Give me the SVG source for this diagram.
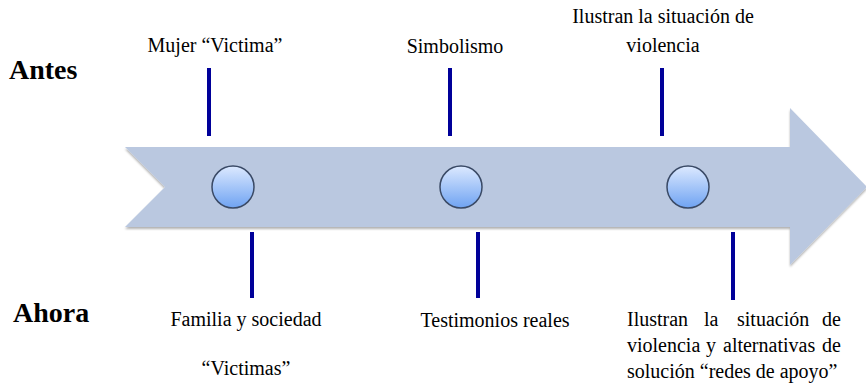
<svg xmlns="http://www.w3.org/2000/svg" width="866" height="387" viewBox="0 0 866 387">
<defs>
<linearGradient id="dot" x1="0" y1="0" x2="0" y2="1">
<stop offset="0" stop-color="#DCE9FF"/>
<stop offset="1" stop-color="#6FA3F2"/>
</linearGradient>
<filter id="sh" x="-5%" y="-5%" width="110%" height="115%">
<feDropShadow dx="0" dy="2" stdDeviation="1.2" flood-color="#000" flood-opacity="0.3"/>
</filter>
<style>
.t{font-size:20px;fill:#000}
.h{font-size:28px;font-weight:bold;fill:#000}
.m{text-anchor:middle}
.ln{stroke:#000099;stroke-width:4}
.dot{fill:url(#dot);stroke:#3A4A66;stroke-width:1.5}
</style>
</defs>
<rect width="866" height="387" fill="#fff"/>
<g id="arrow">
<polygon points="125,147 790,147 790,108 867,187 790,265 790,227 125,227 165,187" fill="#BAC8E0" filter="url(#sh)"/>
</g>
<g id="connectors">
<line class="ln" x1="209" y1="68" x2="209" y2="136"/>
<line class="ln" x1="252" y1="232" x2="252" y2="298"/>
<line class="ln" x1="450" y1="68" x2="450" y2="136"/>
<line class="ln" x1="478" y1="232" x2="478" y2="298"/>
<line class="ln" x1="662" y1="68" x2="662" y2="136"/>
<line class="ln" x1="733" y1="232" x2="733" y2="300"/>
</g>
<g id="dot1"><circle class="dot" cx="233" cy="187" r="21"/></g>
<g id="dot2"><circle class="dot" cx="461" cy="187" r="21"/></g>
<g id="dot3"><circle class="dot" cx="688" cy="187" r="21"/></g>
<g font-family="Liberation Serif, Times New Roman, serif">
<g id="antes"><text class="h" x="9" y="79">Antes</text></g>
<g id="ahora"><text class="h" x="13" y="322">Ahora</text></g>
<g id="top1"><text class="t m" x="215" y="52">Mujer “Victima”</text></g>
<g id="top2"><text class="t m" x="455" y="53">Simbolismo</text></g>
<g id="top3">
<text class="t m" x="663" y="23">Ilustran la situación de</text>
<text class="t m" x="663" y="52">violencia</text>
</g>
<g id="bot1">
<text class="t m" x="246" y="326">Familia y sociedad</text>
<text class="t m" x="246" y="375">“Victimas”</text>
</g>
<g id="bot2"><text class="t m" x="495" y="327">Testimonios reales</text></g>
<g id="bot3">
<text class="t" y="326"><tspan x="627">Ilustran</tspan><tspan x="704">la</tspan><tspan x="737">situación</tspan><tspan x="841" text-anchor="end">de</tspan></text>
<text class="t" y="352"><tspan x="627">violencia</tspan><tspan x="706">y</tspan><tspan x="723">alternativas</tspan><tspan x="841" text-anchor="end">de</tspan></text>
<text class="t" x="627" y="378">solución “redes de apoyo”</text>
</g>
</g>
</svg>
